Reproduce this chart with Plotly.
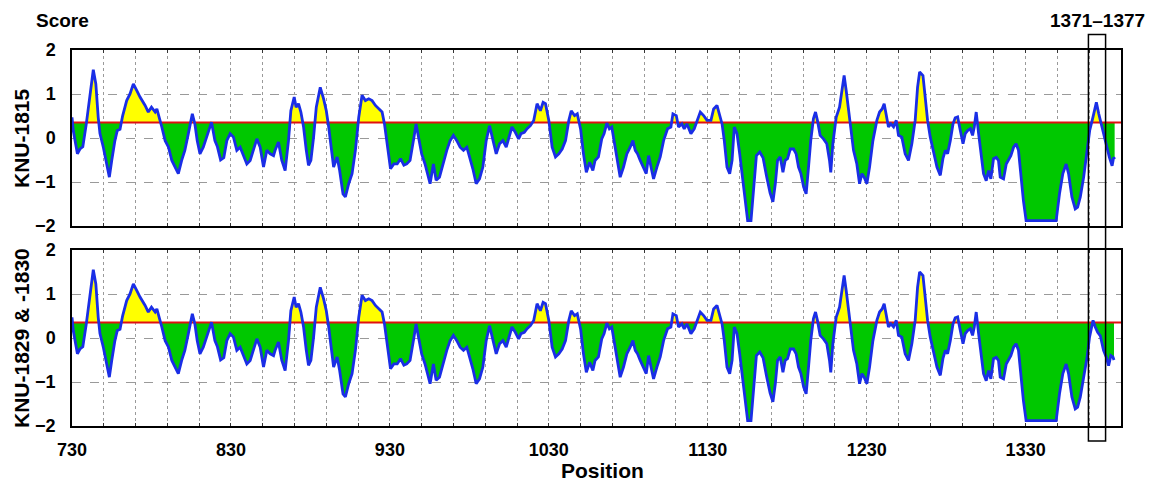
import plotly.graph_objects as go

THRESHOLD = 0.35
X_RANGE = [730, 1390]
TICK_LABELS = [730, 830, 930, 1030, 1130, 1230, 1330]
Y_TICKS = [-2, -1, 0, 1, 2]
PANEL_NAMES = ["KNU-1815", "KNU-1829 & -1830"]
BOX_RANGE = [1369.5, 1380.3]
BOX_LABEL = "1371–1377"

# KNU-1815 profile (position, score)
pos_1815 = [
    730, 730.8, 733.4, 735, 736.8, 739, 743.4, 745, 746.5, 747.6, 749.7, 751.8, 753.5, 755, 757,
    758.5, 760.2, 761.9, 764.4, 766.5, 768.6, 770.7, 772.8, 776, 778, 780, 782.3, 783.4, 785,
    786.5, 788.6, 790.7, 792.8, 794.9, 796.9, 799, 801, 803.2, 805.7, 807.3, 808.8, 810.5, 812.6,
    814.7, 817.8, 819.9, 821.5, 823.5, 825.5, 827.4, 829.5, 831.6, 833.7, 835.8, 837.9, 840,
    842.1, 844.2, 846.3, 848.4, 850.5, 852.6, 854.7, 856.8, 857.8, 859.9, 862, 864.1, 866.2,
    867.7, 869.8, 871, 872.5, 874, 875.7, 877.4, 878.8, 880.3, 882, 883.7, 886.2, 888.3, 890,
    891.5, 893, 894.6, 896.8, 898.4, 900.5, 902, 904.1, 906.2, 908.3, 910.4, 912.5, 914.6, 916.7,
    918.8, 920.9, 923, 925.1, 926.6, 928.3, 930.4, 932.5, 934.6, 936.7, 938.8, 940.6, 942.7,
    944.8, 946.5, 948, 950, 952.1, 954.2, 955.3, 957.4, 959.1, 961.2, 963.3, 965.8, 967.9, 970,
    972.1, 974.2, 976.3, 978.4, 980.1, 982.2, 984.3, 986.4, 988.5, 990.6, 992.7, 994.8, 996.9,
    999, 1001.1, 1003.2, 1005.3, 1006.8, 1008.9, 1011, 1012.5, 1014.6, 1016.3, 1018.4, 1020.5,
    1022.6, 1024.7, 1026.4, 1027.9, 1030, 1032.1, 1034.2, 1036.3, 1038.4, 1040.5, 1042.6, 1044.1,
    1046.2, 1047.9, 1050, 1051.8, 1053.6, 1055.7, 1057.7, 1059.1, 1061.2, 1063.3, 1064.8, 1066.5,
    1068.1, 1069.6, 1071.1, 1072.8, 1074.9, 1077, 1079.1, 1081.2, 1082.9, 1084.4, 1085.8, 1087.5,
    1089.6, 1091.3, 1092.8, 1094.3, 1095.9, 1098, 1100.1, 1102.2, 1104.7, 1106.8, 1108.1, 1110.2,
    1111.6, 1113.7, 1115.2, 1116.9, 1119.4, 1121.5, 1123.6, 1125.3, 1127.4, 1129.5, 1132, 1133.7,
    1135.8, 1137.5, 1139, 1140.4, 1142.1, 1143.8, 1145.3, 1146.7, 1148.4, 1150.1, 1152.2, 1153.7,
    1155.1, 1157.2, 1158.9, 1160.6, 1162.7, 1164.8, 1166.9, 1169.2, 1171, 1172.5, 1173.9, 1175.6,
    1177.3, 1178.7, 1180.2, 1181.9, 1184, 1185.6, 1187.1, 1188.6, 1190.3, 1191.9, 1193.4, 1194.8,
    1196.5, 1197.8, 1199, 1200.7, 1202.8, 1204.9, 1206.6, 1207.4, 1208.7, 1210.8, 1212.9, 1214.4,
    1215.8, 1217.1, 1218.6, 1220, 1221.7, 1223.8, 1225.5, 1227, 1228.4, 1230.1, 1231.8, 1233.9,
    1236.4, 1238.1, 1239.7, 1241, 1242.3, 1243.7, 1245.2, 1246.9, 1248.6, 1250, 1252.1, 1254.2,
    1256.3, 1258.4, 1260.5, 1262, 1263.3, 1265.4, 1266.8, 1268.3, 1270, 1272.1, 1274.2, 1276.3,
    1278, 1279.5, 1280.9, 1282.6, 1284.3, 1285.7, 1287.2, 1288.9, 1290.6, 1292, 1293.5, 1295.2,
    1296.6, 1297.7, 1298.9, 1300.4, 1301.9, 1303.5, 1305.2, 1306.7, 1308.1, 1309.8, 1311.5,
    1312.9, 1314, 1316.1, 1317.8, 1319.2, 1320.7, 1322.4, 1324, 1325.5, 1327, 1328.6, 1330.3,
    1349.2, 1351.3, 1353.4, 1355.5, 1357, 1359.1, 1361.2, 1362.7, 1364.4, 1366.5, 1368.6,
    1370.3, 1372.4, 1374.5, 1376, 1377.5, 1379.1, 1381.2, 1382.7, 1384.4, 1385.4, 1386,
]
score_1815 = [
    0.47, 0.17, -0.36, -0.25, -0.2, 0.32, 1.55, 1.23, 0.47, 0.1, -0.21, -0.59, -0.89, -0.51, -0.06,
    0.17, 0.2, 0.51, 0.85, 1.0, 1.23, 1.08, 0.93, 0.74, 0.59, 0.7, 0.59, 0.66, 0.47,
    0.25, -0.06, -0.21, -0.51, -0.66, -0.81, -0.51, -0.28, 0.1, 0.55, 0.32, -0.06, -0.36, -0.21,
    0.02, 0.36, -0.06, -0.2, -0.5, -0.45, -0.06, 0.1, 0.02, -0.28, -0.21, -0.4, -0.59,
    -0.51, -0.28, -0.02, -0.21, -0.66, -0.28, -0.36, -0.4, -0.28, -0.09, -0.51, -0.74, -0.06,
    0.62, 0.93, 0.7, 0.78, 0.59, 0.25, -0.28, -0.62, -0.51, 0.02, 0.7, 1.15, 0.89, 0.62,
    0.25, -0.21, -0.66, -0.43, -0.74, -1.27, -1.34, -1.04, -0.81, -0.28, 0.47, 0.97, 0.85, 0.89,
    0.85, 0.74, 0.66, 0.59, 0.32, -0.13, -0.7, -0.59, -0.59, -0.47, -0.62, -0.59, -0.51,
    -0.06, 0.32, 0.02, -0.36, -0.59, -0.89, -1.04, -0.59, -0.96, -0.89, -0.59, -0.28, -0.06, 0.06,
    -0.06, -0.21, -0.28, -0.21, -0.43, -0.7, -1.04, -0.93, -0.66, -0.06, 0.28, -0.06, -0.36,
    -0.13, -0.06, -0.21, 0.1, 0.25, 0.13, -0.02, 0.1, 0.13, 0.21, 0.28, 0.4,
    0.78, 0.62, 0.81, 0.78, 0.4, -0.21, -0.43, -0.36, -0.25, -0.06, 0.4, 0.62,
    0.51, 0.55, 0.2, -0.36, -0.78, -0.55, -0.74, -0.51, -0.43, -0.02, 0.1, 0.34,
    0.21, 0.25, -0.06, -0.51, -0.89, -0.66, -0.36, -0.21, -0.06, -0.28, -0.36, -0.51,
    -0.66, -0.81, -0.4, -0.66, -0.93, -0.66, -0.43, -0.06, 0.21, 0.25, 0.55, 0.51,
    0.25, 0.32, 0.21, 0.32, 0.1, 0.21, 0.4, 0.59, 0.51, 0.4, 0.4, 0.66,
    0.74, 0.51, 0.32, -0.06, -0.66, -0.81, -0.51, 0.25, 0.1, -0.36, -0.96, -1.42,
    -1.88, -1.88, -1.11, -0.4, -0.32, -0.45, -0.85, -1.25, -1.45, -1.04, -0.51, -0.43,
    -0.78, -0.51, -0.47, -0.25, -0.25, -0.36, -0.66, -0.81, -1.11, -1.27, -0.66, -0.06,
    0.44, 0.59, 0.4, 0.06, -0.02, -0.13, -0.51, -0.78, -0.13, 0.47, 0.7, 1.08,
    1.42, 1.08, 0.62, 0.1, -0.28, -0.59, -1.04, -0.81, -0.89, -1.04, -0.66, -0.06,
    0.4, 0.59, 0.66, 0.78, 0.47, 0.25, 0.32, 0.25, 0.4, 0.06, 0.02, -0.36,
    -0.51, -0.13, 0.4, 1.15, 1.5, 1.42, 0.93, 0.4, 0.02, -0.36, -0.66, -0.85,
    -0.46, -0.28, -0.36, -0.06, 0.32, 0.46, 0.48, 0.17, -0.13, 0.1, 0.17, 0.21,
    0.06, 0.25, 0.59, 0.1, -0.36, -0.81, -0.97, -0.74, -0.93, -0.47, -0.44,
    -0.51, -0.89, -0.93, -0.59, -0.51, -0.4, -0.21, -0.13, -0.28, -0.89, -1.42, -1.88,
    -1.88, -1.27, -0.81, -0.59, -0.81, -1.34, -1.61, -1.57, -1.34, -0.89, -0.36,
    0.17, 0.48, 0.81, 0.55, 0.32, 0.1, -0.21, -0.44, -0.63, -0.44, -0.48,
]

# KNU-1829 & -1830: same as KNU-1815 except the C-terminal stretch
tail_start_1829 = 1368
tail_pos_1829 = [1368.6, 1370.2, 1372.4, 1373.8, 1375.3, 1377, 1379, 1380.7, 1382.2, 1383.6, 1384.9, 1385.6]
tail_score_1829 = [-0.45, 0.02, 0.4, 0.25, 0.13, 0.05, -0.28, -0.43, -0.63, -0.4, -0.43, -0.5]

pos_1829 = [p for p in pos_1815 if p < tail_start_1829] + tail_pos_1829
score_1829 = [s for p, s in zip(pos_1815, score_1815) if p < tail_start_1829] + tail_score_1829

series = [(pos_1815, score_1815), (pos_1829, score_1829)]

FONT = "Liberation Sans, Arial, sans-serif"
YELLOW = "#ffff00"
GREEN = "#00c800"
BLUE = "#1a2ee6"
RED = "#e01010"
GRID = "#9a9a9a"

W, H = 1149, 483
ML, MR, MT, MB = 72, 28, 50, 57
plot_h = H - MT - MB
gap = 24 / plot_h
panel_h = (1 - gap) / 2
panel_domains = [[1 - panel_h, 1.0], [0.0, panel_h]]
thr_frac = (THRESHOLD - (-2)) / 4.0

fig = go.Figure()
layout = {}

for p, (xs, ys) in enumerate(series):
    d0, d1 = panel_domains[p]
    thr_paper = d0 + thr_frac * (d1 - d0)
    base = p * 4
    ids = [base + 1, base + 2, base + 3, base + 4]
    names = [("x" if i == 1 else f"x{i}", "y" if i == 1 else f"y{i}") for i in ids]
    lay_keys = [("xaxis" if i == 1 else f"xaxis{i}", "yaxis" if i == 1 else f"yaxis{i}") for i in ids]

    # main subplot: frame, grid, ticks
    xk, yk = lay_keys[0]
    layout[xk] = dict(
        domain=[0, 1], range=X_RANGE, anchor=names[0][1],
        tickvals=TICK_LABELS, showticklabels=(p == 1),
        tickfont=dict(family=FONT, size=18, color="black", weight="bold"),
        showgrid=True, gridcolor=GRID, griddash="dot", gridwidth=1,
        minor=dict(tick0=730, dtick=20, showgrid=True, gridcolor=GRID, griddash="dot", gridwidth=1,
                   ticks="inside", ticklen=3, tickcolor="#333"),
        ticks="inside", ticklen=3, tickcolor="#333",
        showline=True, linecolor="black", linewidth=1.5, mirror="ticks",
        zeroline=False, ticklabelstandoff=7,
    )
    layout[yk] = dict(
        domain=[d0, d1], range=[-2, 2], anchor=names[0][0],
        tickvals=Y_TICKS, tickfont=dict(family=FONT, size=18, color="black", weight="bold"),
        showgrid=True, gridcolor=GRID, griddash="dash", gridwidth=1,
        showline=True, linecolor="black", linewidth=1.5, mirror=True,
        zeroline=False, ticks="", ticklabelstandoff=11,
    )
    fig.add_trace(go.Scatter(x=[X_RANGE[0]], y=[0], mode="markers", marker=dict(opacity=0),
                             hoverinfo="skip", showlegend=False,
                             xaxis=names[0][0], yaxis=names[0][1]))

    # yellow subplot: region above threshold only (clipped by its axis range)
    xk, yk = lay_keys[1]
    layout[xk] = dict(domain=[0, 1], range=X_RANGE, anchor=names[1][1], visible=False)
    layout[yk] = dict(domain=[thr_paper, d1], range=[THRESHOLD, 2], anchor=names[1][0], visible=False)
    fig.add_trace(go.Scatter(x=xs, y=ys, mode="lines", line=dict(width=0), fill="tozeroy",
                             fillcolor=YELLOW, hoverinfo="skip", showlegend=False,
                             xaxis=names[1][0], yaxis=names[1][1]))

    # green subplot: region below threshold only (clipped by its axis range)
    xk, yk = lay_keys[2]
    layout[xk] = dict(domain=[0, 1], range=X_RANGE, anchor=names[2][1], visible=False)
    layout[yk] = dict(domain=[d0, thr_paper], range=[-2, THRESHOLD], anchor=names[2][0], visible=False)
    fig.add_trace(go.Scatter(x=[xs[0], xs[-1]], y=[THRESHOLD, THRESHOLD], mode="lines",
                             line=dict(width=0), hoverinfo="skip", showlegend=False,
                             xaxis=names[2][0], yaxis=names[2][1]))
    fig.add_trace(go.Scatter(x=xs, y=ys, mode="lines", line=dict(width=0), fill="tonexty",
                             fillcolor=GREEN, hoverinfo="skip", showlegend=False,
                             xaxis=names[2][0], yaxis=names[2][1]))

    # line subplot: threshold + profile
    xk, yk = lay_keys[3]
    layout[xk] = dict(domain=[0, 1], range=X_RANGE, anchor=names[3][1], visible=False)
    layout[yk] = dict(domain=[d0, d1], range=[-2, 2], anchor=names[3][0], visible=False)
    fig.add_trace(go.Scatter(x=X_RANGE, y=[THRESHOLD, THRESHOLD], mode="lines",
                             line=dict(color=RED, width=2), hoverinfo="skip", showlegend=False,
                             xaxis=names[3][0], yaxis=names[3][1]))
    fig.add_trace(go.Scatter(x=xs, y=ys, mode="lines", line=dict(color=BLUE, width=2.8),
                             showlegend=False, xaxis=names[3][0], yaxis=names[3][1]))

annotations = [
    dict(text="<b>Score</b>", x=(62 - ML) / (W - ML - MR), y=1 + (MT - 21) / plot_h,
         xref="paper", yref="paper", showarrow=False, xanchor="center", yanchor="middle",
         font=dict(family=FONT, size=19, color="black")),
    dict(text="<b>Position</b>", x=(602 - ML) / (W - ML - MR), y=-(470 - (H - MB)) / plot_h,
         xref="paper", yref="paper", showarrow=False, xanchor="center", yanchor="middle",
         font=dict(family=FONT, size=21, color="black")),
    dict(text=f"<b>{BOX_LABEL}</b>", x=sum(BOX_RANGE) / 2, xref="x", y=1 + (MT - 21) / plot_h,
         yref="paper", showarrow=False, xanchor="center", yanchor="middle",
         font=dict(family=FONT, size=19, color="black")),
]
for p, name in enumerate(PANEL_NAMES):
    d0, d1 = panel_domains[p]
    annotations.append(dict(text=f"<b>{name}</b>", x=(21 - ML) / (W - ML - MR), y=(d0 + d1) / 2,
                            xref="paper", yref="paper", showarrow=False, textangle=-90,
                            xanchor="center", yanchor="middle",
                            font=dict(family=FONT, size=21, color="black")))

shapes = [
    dict(type="rect", xref="x", yref="paper", x0=BOX_RANGE[0], x1=BOX_RANGE[1],
         y0=-(441 - (H - MB)) / plot_h, y1=1 + (MT - 34.5) / plot_h,
         line=dict(color="black", width=1.5), fillcolor="rgba(0,0,0,0)", layer="above"),
]

fig.update_layout(
    width=W, height=H, margin=dict(l=ML, r=MR, t=MT, b=MB, pad=0),
    paper_bgcolor="white", plot_bgcolor="rgba(0,0,0,0)",
    showlegend=False, annotations=annotations, shapes=shapes,
    font=dict(family=FONT, color="black"),
    **layout,
)

fig.write_html("out.html", config={"displayModeBar": False},
               post_script="document.body.style.margin='0';document.body.style.overflow='hidden';")
